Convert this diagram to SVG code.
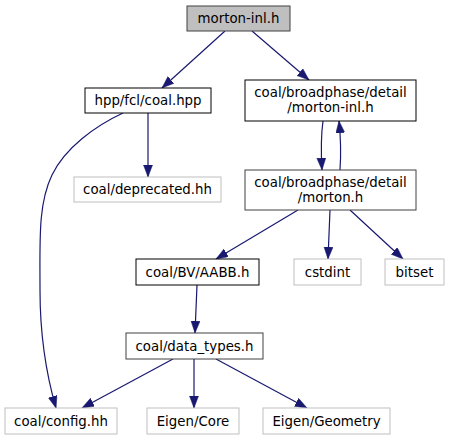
<svg xmlns="http://www.w3.org/2000/svg" width="449" height="440" viewBox="0 0 449 440">
<style>
text{font-family:"DejaVu Sans",sans-serif;font-size:13.33px;text-anchor:middle;fill:#000}
.n rect{fill:#fff;stroke:#000;stroke-width:1}
.g rect{fill:#fff;stroke:#bfbfbf;stroke-width:1}
.d rect{stroke:#404040}
#connectors path{fill:none;stroke:#191970;stroke-width:1.2;marker-end:url(#ah)}
</style>
<defs>
<marker id="ah" markerUnits="userSpaceOnUse" markerWidth="13" markerHeight="10" refX="12" refY="4.5" orient="auto">
<polygon points="0,0 12,4.5 0,9" fill="#191970" stroke="#191970" stroke-width="0.5"/>
</marker>
</defs>
<rect width="449" height="440" fill="#fff"/>
<g id="connectors">
<path d="M225,31 L162,88"/>
<path d="M252,31 L309,80"/>
<path d="M148,113 L148,177"/>
<path d="M123,113 C95,126 65,148 52,175 C38,204 40,240 40,290 C40,330 45,370 56,408"/>
<path d="M323,121 C321,135 321,152 322,170"/>
<path d="M340,170 C341,155 341,140 339,121"/>
<path d="M298,210 L216,259"/>
<path d="M330,210 L328,259"/>
<path d="M350,210 L403,259"/>
<path d="M197,285 L195,333"/>
<path d="M173,359 L82,408"/>
<path d="M194,359 L194,408"/>
<path d="M216,359 L307,408"/>
</g>
<g id="node-morton-inl" class="n d"><rect x="187" y="6" width="103" height="25" style="fill:#bfbfbf"/><text x="238.5" y="23">morton-inl.h</text></g>
<g id="node-coal-hpp" class="n"><rect x="85" y="88" width="126" height="25"/><text x="148" y="105">hpp/fcl/coal.hpp</text></g>
<g id="node-bp-morton-inl" class="n"><rect x="245" y="80" width="171" height="41"/><text x="330.5" y="97">coal/broadphase/detail</text><text x="330.5" y="112">/morton-inl.h</text></g>
<g id="node-deprecated" class="g"><rect x="74" y="177" width="147" height="25"/><text x="147.5" y="194">coal/deprecated.hh</text></g>
<g id="node-bp-morton" class="n d"><rect x="245" y="170" width="171" height="40"/><text x="330.5" y="187">coal/broadphase/detail</text><text x="330.5" y="202">/morton.h</text></g>
<g id="node-aabb" class="n"><rect x="136" y="259" width="123" height="26"/><text x="197.5" y="276.5">coal/BV/AABB.h</text></g>
<g id="node-cstdint" class="g"><rect x="294" y="259" width="67" height="26"/><text x="327.5" y="276.5">cstdint</text></g>
<g id="node-bitset" class="g"><rect x="385" y="259" width="59" height="26"/><text x="414.5" y="276.5">bitset</text></g>
<g id="node-data-types" class="n d"><rect x="126" y="333" width="137" height="26"/><text x="194.5" y="350.5">coal/data_types.h</text></g>
<g id="node-config" class="g"><rect x="5" y="408" width="112" height="26"/><text x="61" y="425.5">coal/config.hh</text></g>
<g id="node-eigen-core" class="g"><rect x="147" y="408" width="92" height="26"/><text x="193" y="425.5">Eigen/Core</text></g>
<g id="node-eigen-geometry" class="g"><rect x="263" y="408" width="127" height="26"/><text x="326.5" y="425.5">Eigen/Geometry</text></g>
</svg>
